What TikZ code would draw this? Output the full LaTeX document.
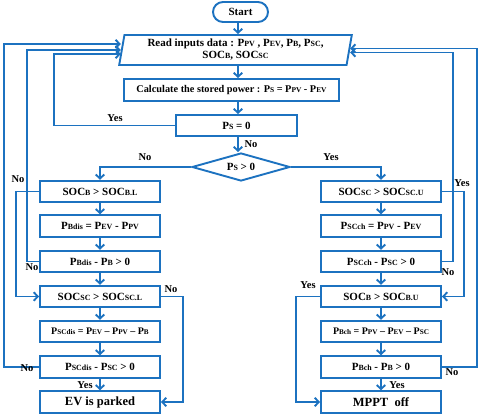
\documentclass[tikz,border=0pt]{standalone}
\usepackage{fontspec}
\setmainfont{Liberation Serif}
\usetikzlibrary{shapes.geometric,arrows.meta,calc}
\definecolor{fb}{RGB}{28,114,192}
\newcommand\sbs[1]{\scalebox{0.72}{#1}}
\begin{document}
\begin{tikzpicture}[x=1pt,y=-1pt,
  box/.style={draw=fb, line width=1.9pt, fill=white, minimum width=120pt, minimum height=21.5pt, inner sep=0pt, font=\bfseries\fontsize{11}{13}\selectfont},
  bigbox/.style={box, font=\bfseries\fontsize{12.5}{14}\selectfont},
  smallbox/.style={box, font=\bfseries\fontsize{10}{12}\selectfont},
  arr/.style={draw=fb, line width=1.9pt, -{Straight Barb[length=4pt,width=8.5pt]}},
  lbl/.style={font=\bfseries\fontsize{10.5}{12}\selectfont, inner sep=0pt}
]
\useasboundingbox (0,0) rectangle (480,415);

% main spine
\node[draw=fb, line width=1.9pt, rounded corners=10pt, minimum width=55pt, minimum height=20pt, inner sep=0pt, font=\bfseries\fontsize{11}{13}\selectfont] (start) at (240.5,12) {Start};
\node[trapezium, trapezium left angle=79, trapezium right angle=101, trapezium stretches=true, draw=fb, line width=1.9pt, minimum width=233pt, minimum height=30pt, inner sep=0pt, align=center, font=\bfseries\fontsize{11}{12}\selectfont] (read) at (235.5,50)
  {Read inputs data : P\sbs{PV} , P\sbs{EV}, P\sbs{B}, P\sbs{SC},\\ SOC\sbs{B}, SOC\sbs{SC}};
\node[box, minimum width=215pt, minimum height=22pt, font=\bfseries\fontsize{10.3}{12}\selectfont] (calc) at (231.5,90)
  {Calculate the stored power : P\sbs{S} = P\sbs{PV} - P\sbs{EV}};
\node[box, minimum width=121pt, minimum height=21pt] (ps0) at (236.5,125.5) {P\sbs{S} = 0};
\node[diamond, draw=fb, line width=1.9pt, minimum width=98pt, minimum height=28pt, aspect=3.5, inner sep=0pt, font=\bfseries\fontsize{11}{13}\selectfont] (dia) at (241,167) {P\sbs{S} > 0};

\coordinate (sp) at (238,0);
\draw[arr] (start.south -| sp) -- (read.north -| sp);
\draw[arr] (read.south -| sp) -- (calc.north -| sp);
\draw[arr] (calc.south -| sp) -- (ps0.north -| sp);
\draw[arr] (ps0.south -| sp) -- (dia.north -| sp);

% left column
\node[box] (b1) at (100,191.5) {SOC\sbs{B} > SOC\sbs{B.L}};
\node[box] (b2) at (100,226) {P\sbs{Bdis} = P\sbs{EV} - P\sbs{PV}};
\node[box] (b3) at (100,261.5) {P\sbs{Bdis} - P\sbs{B} > 0};
\node[box] (b4) at (100,296.5) {SOC\sbs{SC} > SOC\sbs{SC.L}};
\node[smallbox] (b5) at (100,331.5) {P\sbs{SCdis} = P\sbs{EV} -- P\sbs{PV} -- P\sbs{B}};
\node[box] (b6) at (100,367) {P\sbs{SCdis} - P\sbs{SC} > 0};
\node[bigbox] (b7) at (100,402) {EV is parked};

% right column
\node[box] (c1) at (381,191.5) {SOC\sbs{SC} > SOC\sbs{SC.U}};
\node[box] (c2) at (381,226) {P\sbs{SCch} = P\sbs{PV} - P\sbs{EV}};
\node[box] (c3) at (381,261.5) {P\sbs{SCch} - P\sbs{SC} > 0};
\node[box] (c4) at (381,296.5) {SOC\sbs{B} > SOC\sbs{B.U}};
\node[smallbox] (c5) at (381,331.5) {P\sbs{Bch} = P\sbs{PV} -- P\sbs{EV} -- P\sbs{SC}};
\node[box] (c6) at (381,367) {P\sbs{Bch} - P\sbs{B} > 0};
\node[bigbox] (c7) at (381,402) {MPPT\ \ off};

\foreach \a/\b in {b1/b2,b2/b3,b3/b4,b4/b5,b5/b6,b6/b7,c1/c2,c2/c3,c3/c4,c4/c5,c5/c6,c6/c7}
  \draw[arr] (\a.south) -- (\b.north);

\draw[arr] (dia.west) -| (b1.north);
\draw[arr] (dia.east) -| (c1.north);

% side rails
\coordinate (xL1) at (4,0);
\coordinate (xL2) at (16,0);
\coordinate (xL3) at (27,0);
\coordinate (xL4) at (54,0);
\coordinate (xM) at (183,0);
\coordinate (xR1) at (296,0);
\coordinate (xR2) at (453,0);
\coordinate (xR3) at (464,0);
\coordinate (xR4) at (477,0);
\coordinate (r1) at ([yshift=6pt]read.west);
\coordinate (r2) at (read.west);
\coordinate (r3) at ([yshift=-4pt]read.west);
\coordinate (rr1) at ([yshift=1.5pt]read.east);
\coordinate (rr2) at ([yshift=-2.5pt]read.east);

\draw[arr] (ps0.west) -| (r3 -| xL4) -- (r3);
\draw[arr] (b1.west) -| (b4.west -| xL2) -- (b4.west);
\draw[arr] (b3.west) -| (r2 -| xL3) -- (r2);
\draw[arr] (b6.west) -| (r1 -| xL1) -- (r1);
\draw[arr] (b4.east) -| (b7.east -| xM) -- (b7.east);
\draw[arr] (c1.east) -| (c4.east -| xR3) -- (c4.east);
\draw[arr] (c3.east) -| (rr2 -| xR2) -- (rr2);
\draw[arr] (c6.east) -| (rr1 -| xR4) -- (rr1);
\draw[arr] (c4.west) -| (c7.west -| xR1) -- (c7.west);

% labels
\node[lbl] (l1) at (115,118) {Yes};
\node[lbl] (l2) at (251,144) {No};
\node[lbl] (l3) at (145,157) {No};
\node[lbl] (l4) at (331,157) {Yes};
\node[lbl] (l5) at (18,179) {No};
\node[lbl] (l6) at (32,267) {No};
\node[lbl] (l7) at (27,368) {No};
\node[lbl] (l8) at (85,385) {Yes};
\node[lbl] (l9) at (171,289) {No};
\node[lbl] (l10) at (462,183) {Yes};
\node[lbl] (l11) at (448,272) {No};
\node[lbl] (l12) at (308,285) {Yes};
\node[lbl] (l13) at (452,372) {No};
\node[lbl] (l14) at (397,385) {Yes};
\end{tikzpicture}
\end{document}
